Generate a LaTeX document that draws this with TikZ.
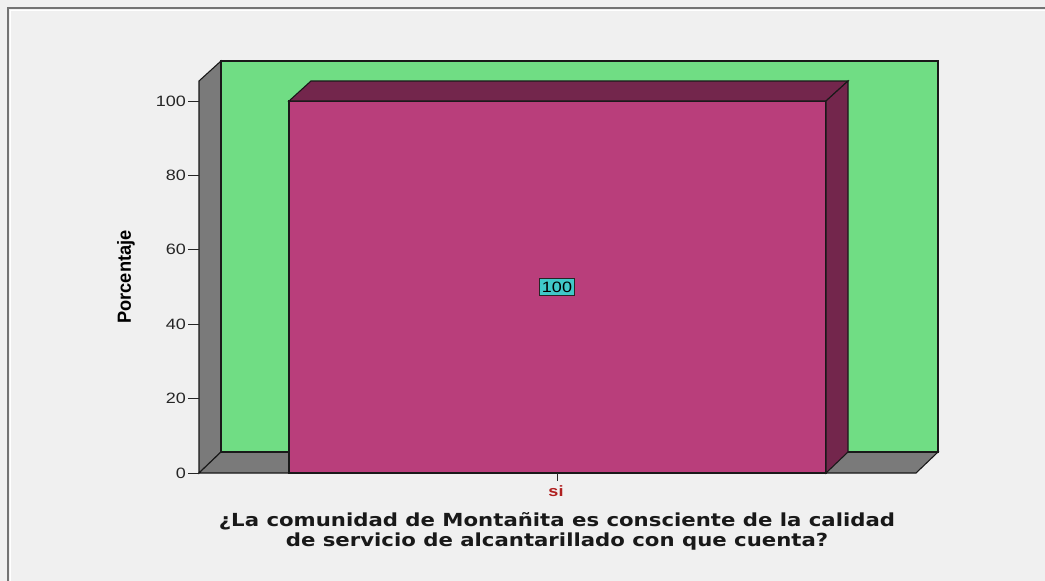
\documentclass[tikz,border=0pt]{standalone}
\usepackage{fontspec}
\setmainfont{Liberation Sans}
\newfontfamily\titlefont{DejaVu Sans}
\definecolor{bgc}{HTML}{F0F0F0}
\definecolor{wallgreen}{HTML}{70DD84}
\definecolor{wallgray}{HTML}{7A7A7A}
\definecolor{barfront}{HTML}{B93E7B}
\definecolor{bardark}{HTML}{73264C}
\definecolor{labcyan}{HTML}{40C8C8}
\definecolor{sired}{HTML}{B02020}
\newcommand{\wid}[1]{\scalebox{1.2}[1]{#1}}
\tikzset{
  face/.style={draw=black!90, line width=1.1pt, line join=miter},
  tickline/.style={draw=black!85, line width=1pt},
  ticklab/.style={anchor=east, inner sep=0pt, font=\fontsize{15}{15}\selectfont, text=black!85},
}
\begin{document}
\begin{tikzpicture}[x=1pt,y=-1pt]
\useasboundingbox (0,0) rectangle (1045,581);
\fill[bgc] (0,0) rectangle (1045,581);
\draw[draw=white, line width=1pt] (10,581) -- (10,10) -- (1045,10);
\draw[draw=black!55, line width=1.3pt] (8,600) -- (8,8) -- (1060,8);
% walls
\path[face, fill=wallgray] (199,81) -- (221,61) -- (221,452) -- (199,473) -- cycle;
\path[face, fill=wallgray] (199,473) -- (221,452) -- (938,452) -- (916,473) -- cycle;
\path[face, fill=wallgreen] (221,61) rectangle (938,452);
% bar
\path[face, fill=barfront] (289,101) rectangle (826,473);
\path[face, fill=bardark] (289,101) -- (311,81) -- (848,81) -- (826,101) -- cycle;
\path[face, fill=bardark] (826,101) -- (848,81) -- (848,452) -- (826,473) -- cycle;
% axis ticks
\foreach \v/\yy in {0/473,20/398.6,40/324.2,60/249.8,80/175.4,100/101} {
  \draw[tickline] (188,\yy) -- (199,\yy);
  \node[ticklab] (t\v) at (186,\yy) {\wid{\v}};
}
\draw[tickline] (557,473) -- (557,481);
% labels
\node[draw=black!85, line width=1.2pt, fill=labcyan, inner xsep=2.5pt, inner ysep=3pt, font=\fontsize{15}{15}\selectfont] (val) at (557,287) {\wid{100}};
\node[font=\bfseries\fontsize{15}{15}\selectfont, text=sired] (cat) at (556,491) {\wid{si}};
\node[rotate=90, font=\bfseries\fontsize{19}{19}\selectfont] (ylab) at (126,277) {\scalebox{0.96}[1]{Porcentaje}};
\node[align=center, font=\titlefont\bfseries\fontsize{18}{20}\selectfont, text=black!90, inner sep=0pt] (title) at (557,531) {\scalebox{1.18}[1]{¿La comunidad de Montañita es consciente de la calidad}\\\scalebox{1.18}[1]{de servicio de alcantarillado con que cuenta?}};
\end{tikzpicture}
\end{document}
